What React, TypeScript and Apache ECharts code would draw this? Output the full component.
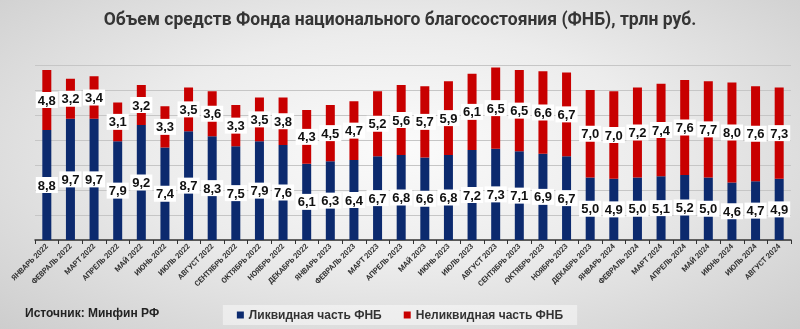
import React, { useEffect, useRef } from "react";
import * as echarts from "echarts";

const categories = [
  "ЯНВАРЬ 2022", "ФЕВРАЛЬ 2022", "МАРТ 2022", "АПРЕЛЬ 2022", "МАЙ 2022", "ИЮНЬ 2022",
  "ИЮЛЬ 2022", "АВГУСТ 2022", "СЕНТЯБРЬ 2022", "ОКТЯБРЬ 2022", "НОЯБРЬ 2022", "ДЕКАБРЬ 2022",
  "ЯНВАРЬ 2023", "ФЕВРАЛЬ 2023", "МАРТ 2023", "АПРЕЛЬ 2023", "МАЙ 2023", "ИЮНЬ 2023",
  "ИЮЛЬ 2023", "АВГУСТ 2023", "СЕНТЯБРЬ 2023", "ОКТЯБРЬ 2023", "НОЯБРЬ 2023", "ДЕКАБРЬ 2023",
  "ЯНВАРЬ 2024", "ФЕВРАЛЬ 2024", "МАРТ 2024", "АПРЕЛЬ 2024", "МАЙ 2024", "ИЮНЬ 2024",
  "ИЮЛЬ 2024", "АВГУСТ 2024",
];

const liquid = [
  8.8, 9.7, 9.7, 7.9, 9.2, 7.4, 8.7, 8.3, 7.5, 7.9, 7.6, 6.1,
  6.3, 6.4, 6.7, 6.8, 6.6, 6.8, 7.2, 7.3, 7.1, 6.9, 6.7, 5.0,
  4.9, 5.0, 5.1, 5.2, 5.0, 4.6, 4.7, 4.9,
];

const illiquid = [
  4.8, 3.2, 3.4, 3.1, 3.2, 3.3, 3.5, 3.6, 3.3, 3.5, 3.8, 4.3,
  4.5, 4.7, 5.2, 5.6, 5.7, 5.9, 6.1, 6.5, 6.5, 6.6, 6.7, 7.0,
  7.0, 7.2, 7.4, 7.6, 7.7, 8.0, 7.6, 7.3,
];

const seriesNames = ["Ликвидная часть ФНБ", "Неликвидная часть ФНБ"];
const title = "Объем средств Фонда национального благосостояния (ФНБ), трлн руб.";
const source = "Источник: Минфин РФ";

const fmt = (v: number) => v.toFixed(1).replace(".", ",");

export default function App() {
  const ref = useRef<HTMLDivElement>(null);
  useEffect(() => {
    if (!ref.current) return;
    const chart = echarts.init(ref.current, null, { renderer: "svg" });
    const label = {
      show: true,
      position: "inside" as const,
      formatter: (p: any) => fmt(p.value),
      backgroundColor: "#ffffff",
      padding: [2, 2, 1, 2],
      color: "#111",
      fontSize: 13,
      fontWeight: "bold" as const,
      fontFamily: "Liberation Sans, Arial, sans-serif",
    };
    chart.setOption({
      animation: false,
      title: {
        text: title,
        left: "center",
        top: 5,
        textStyle: {
          fontSize: 17.5,
          fontWeight: "bold",
          color: "#353535",
          fontFamily: "Roboto, sans-serif",
        },
      },
      legend: {
        bottom: 4,
        left: "center",
        itemWidth: 7,
        itemHeight: 7,
        itemGap: 22,
        icon: "rect",
        padding: [4, 14, 4, 14],
        backgroundColor: "rgba(255,255,255,0.45)",
        textStyle: {
          fontSize: 12,
          fontWeight: "bold",
          color: "#333",
          fontFamily: "Liberation Sans, Arial, sans-serif",
        },
        data: seriesNames,
      },
      graphic: [
        {
          type: "text",
          left: 25,
          top: 307,
          style: {
            text: source,
            fontSize: 12,
            fontWeight: "bold",
            fill: "#222",
            fontFamily: "Liberation Sans, Arial, sans-serif",
          },
        },
      ],
      grid: { left: 35, right: 9, top: 65, bottom: 89 },
      xAxis: {
        type: "category",
        data: categories,
        axisLine: { lineStyle: { color: "#333", width: 1.5 } },
        axisTick: { show: true, length: 4, lineStyle: { color: "#333" } },
        axisLabel: {
          interval: 0,
          rotate: 45,
          fontSize: 7.5,
          fontWeight: "bold",
          color: "#333",
          margin: 5,
          fontFamily: "Roboto, sans-serif",
        },
      },
      yAxis: {
        type: "value",
        min: 0,
        max: 14,
        interval: 2,
        axisLabel: { show: false },
        axisLine: { show: false },
        axisTick: { show: false },
        splitLine: { lineStyle: { color: "#c6c6c6", width: 1 } },
      },
      series: [
        {
          name: seriesNames[0],
          type: "bar",
          stack: "fnb",
          data: liquid,
          barWidth: 9,
          itemStyle: { color: "#0c2a6e" },
          label,
        },
        {
          name: seriesNames[1],
          type: "bar",
          stack: "fnb",
          data: illiquid,
          barWidth: 9,
          itemStyle: { color: "#c80000" },
          label,
        },
      ],
    });
    return () => chart.dispose();
  }, []);
  return (
    <div
      style={{
        position: "fixed",
        left: 0,
        top: 0,
        width: 800,
        height: 329,
        background:
          "radial-gradient(ellipse at 50% 45%, #fbfbfb 0%, #ececec 45%, #cdcdcd 100%)",
      }}
    >
      <div ref={ref} style={{ width: 800, height: 329 }} />
    </div>
  );
}
